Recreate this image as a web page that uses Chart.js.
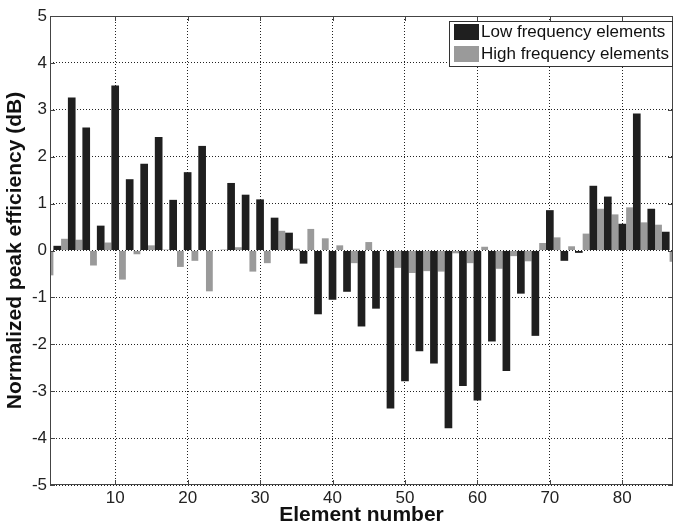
<!DOCTYPE html>
<html>
<head>
<meta charset="utf-8">
<script src="https://cdn.jsdelivr.net/npm/chart.js@4.4.0/dist/chart.umd.min.js"></script>
<style>
  html, body { margin: 0; padding: 0; background: #fff; }
</style>
</head>
<body>
<canvas id="effChart" width="674" height="529"></canvas>
<script>
// element numbers and normalized peak efficiency (dB)
const lowElements = [2, 4, 6, 8, 10, 12, 14, 16, 18, 20, 22, 24, 26, 28, 30, 32, 34, 36, 38, 40, 42, 44,
    46, 48, 50, 52, 54, 56, 58, 60, 62, 64, 66, 68, 70, 72, 74, 76, 78, 80, 82, 84, 86];
const lowValues = [0.10, 3.26, 2.62, 0.53, 3.52, 1.52, 1.85, 2.42, 1.08, 1.67, 2.23, 0.01, 1.44, 1.19, 1.09,
    0.70, 0.38, -0.28, -1.36, -1.05, -0.88, -1.62, -1.24, -3.37, -2.79, -2.15, -2.41, -3.79, -2.89, -3.20,
    -1.94, -2.57, -0.92, -1.82, 0.86, -0.22, -0.05, 1.38, 1.15, 0.57, 2.92, 0.89, 0.40];

const highElements = [1, 3, 5, 7, 9, 11, 13, 15, 17, 19, 21, 23, 25, 27, 29, 31, 33, 35, 37, 39, 41, 43,
    45, 47, 49, 51, 53, 55, 57, 59, 61, 63, 65, 67, 69, 71, 73, 75, 77, 79, 81, 83, 85, 87];
const highValues = [-0.53, 0.25, 0.23, -0.32, 0.17, -0.62, -0.08, 0.11, 0.02, -0.35, -0.22, -0.87, 0.02, 0.07,
    -0.45, -0.27, 0.42, 0.04, 0.46, 0.26, 0.11, -0.27, 0.18, 0.00, -0.37, -0.48, -0.44, -0.45, -0.06, -0.27,
    0.08, -0.39, -0.12, -0.23, 0.16, 0.28, 0.09, 0.36, 0.89, 0.77, 0.92, 0.60, 0.55, -0.24];

const xTicks = [10, 20, 30, 40, 50, 60, 70, 80];
const yTicks = [-5, -4, -3, -2, -1, 0, 1, 2, 3, 4, 5];

const FONT = "'Liberation Sans', Arial, Helvetica, sans-serif";

function toPoints(xs, ys) {
    return xs.map((x, i) => ({ x: x, y: ys[i] }));
}

// frame, inward ticks and the legend box in the upper right corner
const matlabLook = {
    id: 'matlabLook',
    afterDraw(chart) {
        const ctx = chart.ctx;
        const a = chart.chartArea;
        const xs = chart.scales.x, ys = chart.scales.y;
        ctx.save();
        ctx.strokeStyle = '#444';
        ctx.lineWidth = 1;
        ctx.setLineDash([]);
        ctx.strokeRect(a.left + 0.5, a.top + 0.5, a.right - a.left - 1, a.bottom - a.top - 1);
        ctx.beginPath();
        xs.ticks.forEach(t => {
            const px = Math.round(xs.getPixelForValue(t.value)) + 0.5;
            ctx.moveTo(px, a.bottom); ctx.lineTo(px, a.bottom - 5);
            ctx.moveTo(px, a.top); ctx.lineTo(px, a.top + 5);
        });
        ys.ticks.forEach(t => {
            const py = Math.round(ys.getPixelForValue(t.value)) + 0.5;
            ctx.moveTo(a.left, py); ctx.lineTo(a.left + 5, py);
            ctx.moveTo(a.right, py); ctx.lineTo(a.right - 5, py);
        });
        ctx.stroke();

        // legend
        const boxW = 224, boxH = 46;
        const bx = a.right - boxW, by = a.top + 5;
        ctx.fillStyle = '#fff';
        ctx.fillRect(bx, by, boxW, boxH);
        ctx.strokeStyle = '#333';
        ctx.strokeRect(bx + 0.5, by + 0.5, boxW - 1, boxH - 1);
        ctx.font = '17px ' + FONT;
        ctx.textBaseline = 'middle';
        ctx.textAlign = 'left';
        chart.data.datasets.forEach((ds, i) => {
            const rowY = by + 3 + i * 22;
            ctx.fillStyle = ds.backgroundColor;
            ctx.fillRect(bx + 5, rowY, 25, 16);
            ctx.fillStyle = '#111';
            ctx.fillText(ds.label, bx + 32, rowY + 8.5);
        });
        ctx.restore();
    }
};

const data = {
    datasets: [{
        label: 'Low frequency elements',
        backgroundColor: '#1f1f1f',
        data: toPoints(lowElements, lowValues),
        barPercentage: 1.06,
        categoryPercentage: 1.0,
        grouped: false,
        clip: 0
    },
    {
        label: 'High frequency elements',
        backgroundColor: '#9a9a9a',
        data: toPoints(highElements, highValues),
        barPercentage: 0.94,
        categoryPercentage: 1.0,
        grouped: false,
        clip: 0
    }]
};

const tickFont = { family: FONT, size: 17 };
const titleFont = { family: FONT, size: 21, weight: 'bold' };

const config = {
    type: 'bar',
    data: data,
    options: {
        responsive: false,
        animation: false,
        layout: { padding: { top: 16, right: 1, left: 0, bottom: 0 } },
        plugins: {
            legend: { display: false },
            tooltip: { enabled: false }
        },
        scales: {
            x: {
                type: 'linear',
                min: 1,
                max: 87,
                offset: false,
                afterBuildTicks: s => { s.ticks = xTicks.map(v => ({ value: v })); },
                afterFit: s => { s.height = 44; },
                grid: { color: '#222', drawTicks: false, offset: false },
                border: { display: false, dash: [1, 2] },
                ticks: { font: tickFont, color: '#222', padding: 3, maxRotation: 0, autoSkip: false },
                title: { display: true, text: 'Element number', font: titleFont, color: '#111', padding: { top: 0, bottom: 1 } }
            },
            y: {
                min: -5,
                max: 5,
                afterBuildTicks: s => { s.ticks = yTicks.map(v => ({ value: v })); },
                afterFit: s => { s.width = 50; },
                grid: { color: '#222', drawTicks: false },
                border: { display: false, dash: [1, 2] },
                ticks: { font: tickFont, color: '#222', padding: 3 },
                title: { display: true, text: 'Normalized peak efficiency (dB)', font: titleFont, color: '#111', padding: { top: 3, bottom: 0 } }
            }
        }
    },
    plugins: [matlabLook]
};

const effChart = new Chart(document.getElementById('effChart'), config);
</script>
</body>
</html>
